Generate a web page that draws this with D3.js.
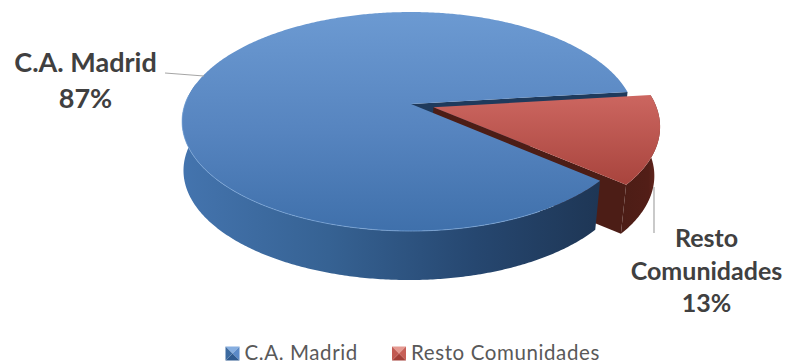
<!DOCTYPE html>
<html>
<head>
<meta charset="utf-8">
<script src="https://cdn.jsdelivr.net/npm/d3@7"></script>
<style>
  html, body { margin: 0; padding: 0; background: #fff; }
  svg { display: block; }
  text { font-family: Lato, "Open Sans", sans-serif; }
</style>
</head>
<body>
<svg id="chart" width="786" height="363"></svg>
<script>
// Share of the total by region
const categories = ["C.A. Madrid", "Resto Comunidades"];
const shares = [87, 13];
const labelLines = [["C.A. Madrid", "87%"], ["Resto", "Comunidades", "13%"]];

const svg = d3.select("#chart");
const defs = svg.append("defs");

// Tilted-disc projection: unit disc coordinates to screen pixels
const centre = { x: 411, y: 104 };
const radiusLeft = 226, radiusRight = 222, radiusY = 106.7, tilt = 0.16;
const depth = 49, baseShrink = 0.985, baseShift = -2, explode = 0.105;

const project = (u, v) => {
  const w = 1 - tilt * v;
  return [centre.x + (u < 0 ? radiusLeft : radiusRight) * u / w, centre.y + radiusY * v / w];
};
const projectBase = (u, v) => {
  const [x, y] = project(u, v);
  return [centre.x + baseShift + (x - centre.x) * baseShrink, y + depth];
};

const deg = d3.scaleLinear().domain([0, 360]).range([0, 2 * Math.PI]);
const pie = d3.pie().sort(null)
  .startAngle(deg(130.2))
  .endAngle(deg(130.2 + 360));
const slices = pie(shares);

const line = d3.line();

// Rim points of a slice between two clockwise-from-top angles
const rim = (a0, a1, offset, proj) => {
  const n = Math.max(2, Math.ceil(Math.abs(a1 - a0) / 0.01));
  return d3.range(n + 1).map(i => {
    const a = a0 + (a1 - a0) * i / n;
    return proj(Math.sin(a) + offset[0], -Math.cos(a) + offset[1]);
  });
};
const topFace = (s, offset) =>
  line([project(offset[0], offset[1]), ...rim(s.startAngle, s.endAngle, offset, project)]) + "Z";
const outerWall = (a0, a1, offset) =>
  line([...rim(a0, a1, offset, project), ...rim(a0, a1, offset, projectBase).reverse()]) + "Z";
const cutWall = (a, offset) => {
  const u = Math.sin(a) + offset[0], v = -Math.cos(a) + offset[1];
  return line([project(offset[0], offset[1]), project(u, v),
               projectBase(u, v), projectBase(offset[0], offset[1])]) + "Z";
};

const gradient = (id, x2, y2, stops) => {
  const g = defs.append("linearGradient").attr("id", id)
    .attr("x1", 0).attr("y1", 0).attr("x2", x2).attr("y2", y2);
  stops.forEach(([o, c]) => g.append("stop").attr("offset", o).attr("stop-color", c));
};
gradient("blueTop", 0, 1, [[0, "#6c9ad2"], [0.55, "#5684bf"], [1, "#3f70ab"]]);
gradient("redTop", 0, 1, [[0, "#cc6660"], [1, "#a8443d"]]);
gradient("blueWall", 1, 0, [[0, "#4474ae"], [0.35, "#366293"], [0.7, "#264770"], [1, "#1e3655"]]);
gradient("redWall", 1, 0, [[0, "#4c1d16"], [0.7, "#521e17"], [1, "#6b2a22"]]);

const [blue, red] = slices;
const mid = (red.startAngle + red.endAngle) / 2;
const redOffset = [explode * Math.sin(mid), -explode * Math.cos(mid)];
const none = [0, 0];
const blueSeam = blue.endAngle - 2 * Math.PI;

// Painted back to front so nearer faces cover farther ones
svg.append("path").attr("d", cutWall(blueSeam, none)).attr("fill", "#1f3a5c");
svg.append("path").attr("d", cutWall(red.endAngle, redOffset)).attr("fill", "#4c1d16");
svg.append("path").attr("d", outerWall(red.startAngle, red.endAngle, redOffset)).attr("fill", "url(#redWall)");
svg.append("path").attr("d", outerWall(blue.startAngle, deg(281), none)).attr("fill", "url(#blueWall)");
svg.append("path").attr("d", topFace(blue, none)).attr("fill", "url(#blueTop)");
svg.append("path").attr("d", topFace(red, redOffset)).attr("fill", "url(#redTop)");

// Soft highlight along the front edge of the top face
svg.append("path")
  .attr("d", line(rim(deg(150), deg(275), none, project)))
  .attr("fill", "none").attr("stroke", "#7fa9db").attr("stroke-width", 1).attr("opacity", 0.7);

// Leader lines from the data labels to the slices
const leaders = [[[165, 73], [204, 76]], [[654, 187], [654, 233]]];
svg.selectAll("path.leader").data(leaders).join("path").attr("class", "leader")
  .attr("d", d => line(d)).attr("fill", "none")
  .attr("stroke", "#a6a6a6").attr("stroke-width", 1.2);

// Data labels
const labelAnchors = [
  { x: 85.5, y: 72, step: 36, size: 27 },
  { x: 706.5, y: 247, step: 32.5, size: 25 }
];
labelLines.forEach((lines, i) => {
  svg.append("g").selectAll("text").data(lines).join("text")
    .attr("x", labelAnchors[i].x)
    .attr("y", (d, j) => labelAnchors[i].y + j * labelAnchors[i].step)
    .attr("text-anchor", "middle")
    .attr("font-size", labelAnchors[i].size).attr("font-weight", 700).attr("fill", "#404040")
    .text(d => d);
});

// Legend with bevelled swatches (top, right, bottom, left facets)
const legendX = [225.5, 392];
const swatchTones = [
  ["#86aee0", "#5b8ac8", "#2f5a8f", "#3c6aa0"],
  ["#e59a92", "#c75f57", "#a33f38", "#c25a52"]
];
const size = 14;
const legend = svg.append("g");
categories.forEach((name, i) => {
  const x = legendX[i], y = 346.5;
  const c = [x + size / 2, y + size / 2];
  const corners = [[x, y], [x + size, y], [x + size, y + size], [x, y + size]];
  swatchTones[i].forEach((tone, k) => {
    legend.append("path")
      .attr("d", line([corners[k], corners[(k + 1) % 4], c]) + "Z")
      .attr("fill", tone);
  });
  legend.append("text")
    .attr("x", x + size + 5).attr("y", 359.5)
    .attr("font-size", 20.5).attr("letter-spacing", 0.6).attr("fill", "#595959")
    .text(name);
});
</script>
</body>
</html>
